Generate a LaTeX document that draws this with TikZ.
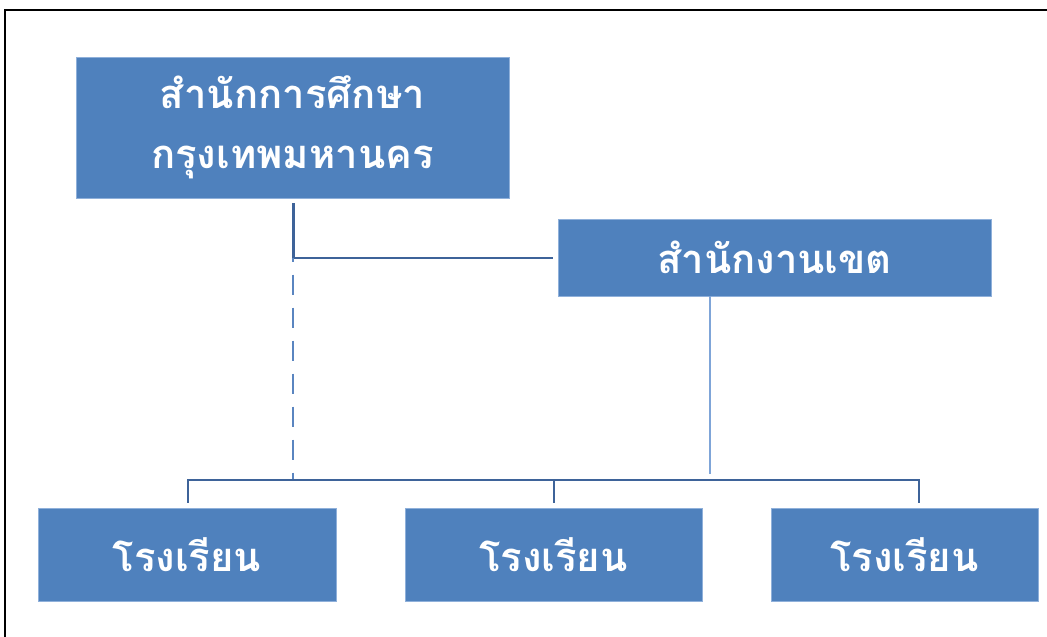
\documentclass[tikz,border=0pt]{standalone}
\usepackage{fontspec}
\newfontfamily\thaifont[Script=Thai]{Loma}
\definecolor{boxblue}{HTML}{4F81BD}
\definecolor{boxedge}{HTML}{8FB0DA}
\definecolor{linedark}{HTML}{3E6399}
\definecolor{linelight}{HTML}{7FA5D8}
\definecolor{linemid}{HTML}{5A85C0}
\tikzset{
  orgbox/.style={rectangle, fill=boxblue, draw=boxedge, line width=0.6pt,
    text=white, font=\thaifont\bfseries\fontsize{40}{60}\selectfont,
    align=center, inner sep=0pt},
  conn/.style={draw=linedark, line width=2pt},
  dashconn/.style={draw=linemid, line width=2.2pt, dash pattern=on 20pt off 13pt, dash phase=16pt},
}
\begin{document}
\begin{tikzpicture}[x=1pt,y=-1pt]
\useasboundingbox (0,0) rectangle (1047,637);
\fill[white] (0,0) rectangle (1047,637);
% frame
\draw[black, line width=2.2pt] (5,637) -- (5,10) -- (1047,10);
% boxes
\node[orgbox, minimum width=433pt, minimum height=141pt] (bma) at (292.5,127.5) {สำนักการศึกษา\\กรุงเทพมหานคร};
\node[orgbox, minimum width=433pt, minimum height=77pt] (area) at (774.5,257.5) {สำนักงานเขต};
\node[orgbox, minimum width=298pt, minimum height=93pt] (s1) at (187,554.5) {โรงเรียน};
\node[orgbox, minimum width=297pt, minimum height=93pt] (s2) at (553.5,554.5) {โรงเรียน};
\node[orgbox, minimum width=267pt, minimum height=93pt] (s3) at (904.5,554.5) {โรงเรียน};
% coordinates
\coordinate (j1) at (293,257.5);
\coordinate (busL) at (188,480);
\coordinate (busM) at (553.5,480);
\coordinate (busR) at (919,480);
\coordinate (dashEnd) at (293,480);
\coordinate (areaDrop) at (710,296);
\coordinate (areaEnd) at (710,474);
% connectors
\draw[linedark, line width=3pt] ([xshift=0.5pt,yshift=-5pt]bma.south) -- (j1);
\draw[conn] (j1) -- ([xshift=-5pt]area.west);
\draw[dashconn] (j1) -- (dashEnd);
\draw[linelight, line width=2.2pt] (areaDrop) -- (areaEnd);
\draw[conn] ([yshift=5pt]s1.north -| busL) -- (busL) -- (busR) -- ([yshift=5pt]s3.north -| busR);
\draw[conn] (busM) -- ([yshift=5pt]s2.north);
\end{tikzpicture}
\end{document}
